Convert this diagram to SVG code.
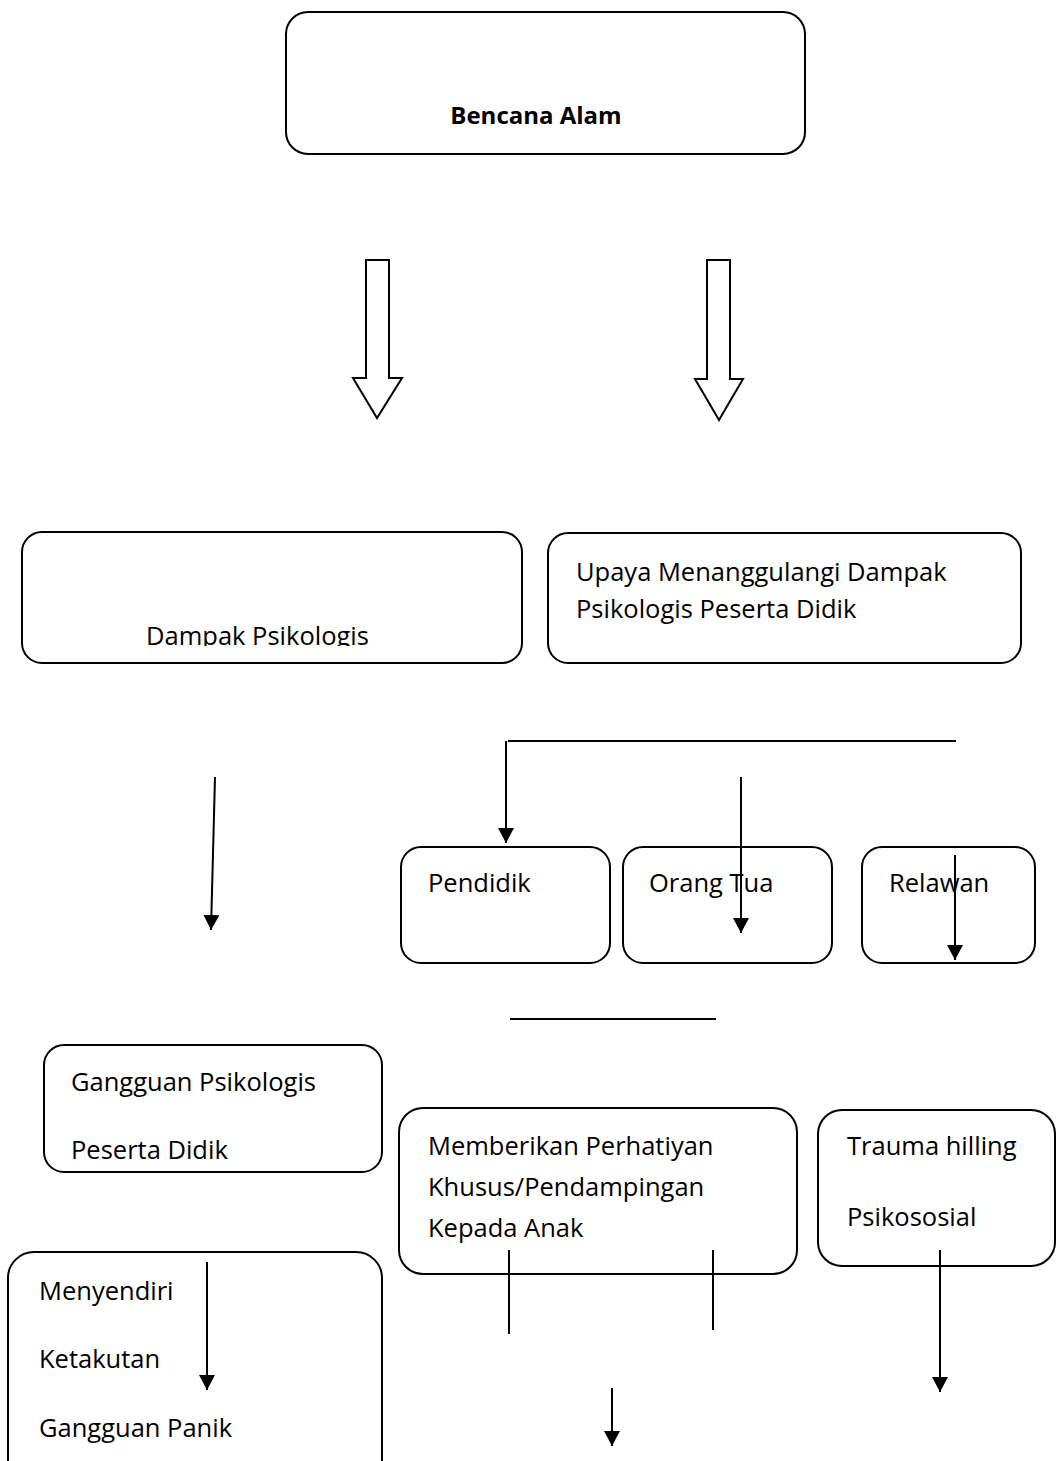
<svg xmlns="http://www.w3.org/2000/svg" width="1056" height="1461" viewBox="0 0 1056 1461">
<defs>
<style>
.box{fill:#fff;stroke:#000;stroke-width:2}
.blk{fill:#fff;stroke:#000;stroke-width:2;stroke-linejoin:miter}
.t{font-family:"Open Sans","Liberation Sans",sans-serif;font-size:25.5px;fill:#000}
.tb{font-family:"Open Sans","Liberation Sans",sans-serif;font-size:24px;font-weight:bold;fill:#000}
.c{fill:none;stroke:#000;stroke-width:2}
.a{fill:none;stroke:#000;stroke-width:2;marker-end:url(#ah)}
</style>
<marker id="ah" viewBox="0 0 15 16" refX="15" refY="8" markerWidth="15" markerHeight="16" markerUnits="userSpaceOnUse" orient="auto">
<path d="M0,0 L15,8 L0,16 z" fill="#000"/>
</marker>
<clipPath id="clipDampak"><rect x="0" y="520" width="530" height="126"/></clipPath>
<clipPath id="clipPeserta"><rect x="0" y="1040" width="400" height="120"/></clipPath>
</defs>
<rect width="1056" height="1461" fill="#fff"/>

<g id="bencana">
<rect class="box" x="286" y="12" width="519" height="142" rx="22"/>
<text class="tb" x="536" y="124" text-anchor="middle">Bencana Alam</text>
</g>

<g id="arrow-left-block">
<polygon class="blk" points="366,260 389,260 389,378 402,378 377,418 353,378 366,378"/>
</g>
<g id="arrow-right-block">
<polygon class="blk" points="707,260 730,260 730,379 743,379 719,420 695,379 707,379"/>
</g>

<g id="dampak">
<rect class="box" x="22" y="532" width="500" height="131" rx="20"/>
<text class="t" x="146" y="645" clip-path="url(#clipDampak)">Dampak Psikologis</text>
</g>

<g id="upaya">
<rect class="box" x="548" y="533" width="473" height="130" rx="20"/>
<text class="t" x="576" y="581">Upaya Menanggulangi Dampak</text>
<text class="t" x="576" y="618">Psikologis Peserta Didik</text>
</g>

<g id="pendidik">
<rect class="box" x="401" y="847" width="209" height="116" rx="20"/>
<text class="t" x="428" y="892">Pendidik</text>
</g>
<g id="orangtua">
<rect class="box" x="623" y="847" width="209" height="116" rx="20"/>
<text class="t" x="649" y="892">Orang Tua</text>
</g>
<g id="relawan">
<rect class="box" x="862" y="847" width="173" height="116" rx="20"/>
<text class="t" x="889" y="892">Relawan</text>
</g>

<g id="gangguan">
<rect class="box" x="44" y="1045" width="338" height="127" rx="20"/>
<text class="t" x="71" y="1091">Gangguan Psikologis</text>
<text class="t" x="71" y="1159" clip-path="url(#clipPeserta)">Peserta Didik</text>
</g>

<g id="memberikan">
<rect class="box" x="399" y="1108" width="398" height="166" rx="24"/>
<text class="t" x="428" y="1155">Memberikan Perhatiyan</text>
<text class="t" x="428" y="1196">Khusus/Pendampingan</text>
<text class="t" x="428" y="1237">Kepada Anak</text>
</g>

<g id="trauma">
<rect class="box" x="818" y="1110" width="237" height="156" rx="24"/>
<text class="t" x="847" y="1155">Trauma hilling</text>
<text class="t" x="847" y="1226">Psikososial</text>
</g>

<g id="menyendiri">
<rect class="box" x="8" y="1252" width="374" height="240" rx="26"/>
<text class="t" x="39" y="1300">Menyendiri</text>
<text class="t" x="39" y="1368">Ketakutan</text>
<text class="t" x="39" y="1437">Gangguan Panik</text>
</g>

<g id="connectors">
<line class="c" x1="508" y1="741" x2="956" y2="741"/>
<line class="a" x1="506" y1="741" x2="506" y2="843"/>
<line class="a" x1="741" y1="777" x2="741" y2="933"/>
<line class="a" x1="955" y1="855" x2="955" y2="960"/>
<line class="a" x1="215" y1="777" x2="211" y2="930"/>
<line class="c" x1="510" y1="1019" x2="716" y2="1019"/>
<line class="c" x1="509" y1="1250" x2="509" y2="1334"/>
<line class="c" x1="713" y1="1250" x2="713" y2="1330"/>
<line class="a" x1="940" y1="1250" x2="940" y2="1392"/>
<line class="a" x1="612" y1="1388" x2="612" y2="1446"/>
<line class="a" x1="207" y1="1262" x2="207" y2="1390"/>
</g>
</svg>
